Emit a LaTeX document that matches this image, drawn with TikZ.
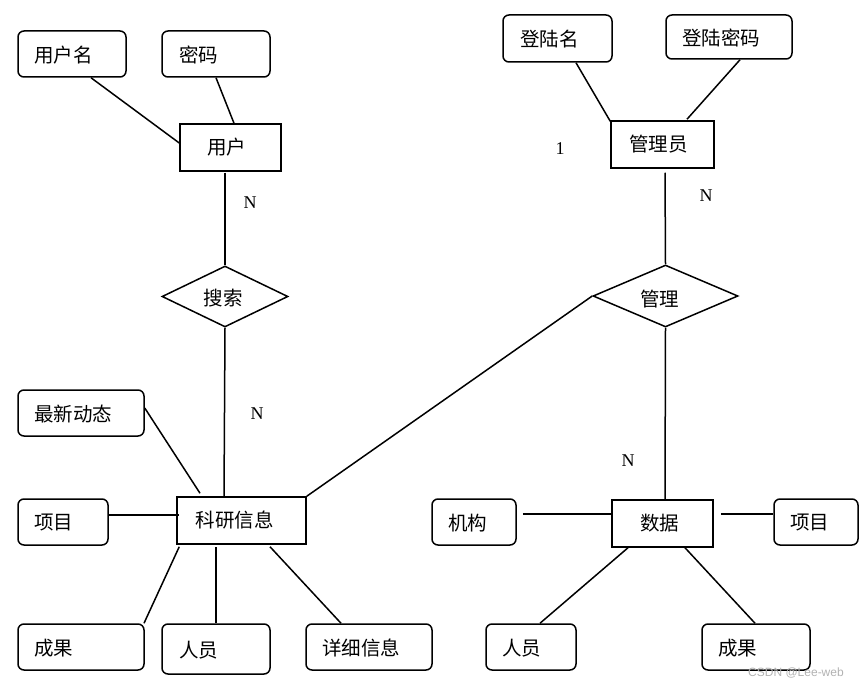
\documentclass[tikz,border=0pt]{standalone}
\usepackage{fontspec}
\setmainfont{Liberation Serif}
\newfontfamily\cjk{Noto Sans CJK SC}
\newfontfamily\wmfont{Liberation Sans}
\usetikzlibrary{shapes.geometric}
\begin{document}
\begin{tikzpicture}[x=1pt,y=-1pt,
  ln/.style={line width=1.5pt},
  attr/.style={draw,line width=1.5pt,rounded corners=6pt,inner sep=0pt},
  ent/.style={draw,line width=1.5pt,inner sep=0pt},
  rel/.style={draw,line width=1.5pt,diamond,inner sep=0pt},
  tx/.style={font=\cjk\fontsize{19.5}{21}\selectfont,inner sep=0pt},
  card/.style={font=\fontsize{18}{20}\selectfont,inner sep=0pt}]
\useasboundingbox (0,0) rectangle (859,687);
% attribute boxes
\node[attr,minimum width=108pt,minimum height=46pt] (un) at (72,54) {};
\node[attr,minimum width=108pt,minimum height=46pt] (mm) at (216,54) {};
\node[attr,minimum width=126pt,minimum height=46pt] (zx) at (81,413) {};
\node[attr,minimum width=90pt,minimum height=46pt] (xm1) at (63,522) {};
\node[attr,minimum width=126pt,minimum height=46pt] (cg1) at (81,647) {};
\node[attr,minimum width=108pt,minimum height=50pt] (ry1) at (216,649) {};
\node[attr,minimum width=126pt,minimum height=46pt] (xx) at (369,647) {};
\node[attr,minimum width=109pt,minimum height=47pt] (dlm) at (557.5,38.5) {};
\node[attr,minimum width=126pt,minimum height=44pt] (dlmm) at (729,37) {};
\node[attr,minimum width=84pt,minimum height=46pt] (jg) at (474,522) {};
\node[attr,minimum width=84pt,minimum height=46pt] (xm2) at (816,522) {};
\node[attr,minimum width=90pt,minimum height=46pt] (ry2) at (531,647) {};
\node[attr,minimum width=108pt,minimum height=46pt] (cg2) at (756,647) {};
% attribute texts
\node[tx,anchor=west] (tun) at ([xshift=17pt,yshift=-1pt]un.west) {用户名};
\node[tx,anchor=west] (tmm) at ([xshift=18pt,yshift=-1pt]mm.west) {密码};
\node[tx,anchor=west] (tzx) at ([xshift=17pt,yshift=-1pt]zx.west) {最新动态};
\node[tx,anchor=west] (txm1) at ([xshift=17pt,yshift=-1pt]xm1.west) {项目};
\node[tx,anchor=west] (tcg1) at ([xshift=17pt,yshift=-1pt]cg1.west) {成果};
\node[tx,anchor=west] (try1) at ([xshift=18pt,yshift=-1pt]ry1.west) {人员};
\node[tx,anchor=west] (txx) at ([xshift=17pt,yshift=-1pt]xx.west) {详细信息};
\node[tx,anchor=west] (tdlm) at ([xshift=18pt,yshift=-1pt]dlm.west) {登陆名};
\node[tx,anchor=west] (tdlmm) at ([xshift=17pt,yshift=-1pt]dlmm.west) {登陆密码};
\node[tx,anchor=west] (tjg) at ([xshift=17pt,yshift=-1pt]jg.west) {机构};
\node[tx,anchor=west] (txm2) at ([xshift=17pt,yshift=-1pt]xm2.west) {项目};
\node[tx,anchor=west] (try2) at ([xshift=17pt,yshift=-1pt]ry2.west) {人员};
\node[tx,anchor=west] (tcg2) at ([xshift=17pt,yshift=-1pt]cg2.west) {成果};
% entities
\node[ent,minimum width=101pt,minimum height=47pt] (user) at (230.5,147.5) {};
\node[tx] at ([xshift=-4pt]user.center) {用户};
\node[ent,minimum width=103pt,minimum height=47pt] (admin) at (662.5,144.5) {};
\node[tx] at ([xshift=-4pt]admin.center) {管理员};
\node[ent,minimum width=129pt,minimum height=47pt] (ky) at (241.5,520.5) {};
\node[tx] at ([xshift=-7pt]ky.center) {科研信息};
\node[ent,minimum width=101pt,minimum height=47pt] (sj) at (662.5,523.5) {};
\node[tx] at ([xshift=-3pt]sj.center) {数据};
% relationships
\node[rel,minimum width=126pt,minimum height=61pt] (ss) at (225,296.5) {};
\node[tx] at ([xshift=-2pt,yshift=-2pt]ss.center) {搜索};
\node[rel,minimum width=145pt,minimum height=62pt] (gl) at (665.5,296) {};
\node[tx] at ([xshift=-6pt,yshift=-3pt]gl.center) {管理};
% connectors
\draw[ln] ([xshift=19pt]un.south) -- ([yshift=4.5pt]user.west);
\draw[ln] (mm.south) -- ([xshift=3.5pt]user.north);
\draw[ln] ([xshift=-5.5pt,yshift=-1pt]user.south) -- (ss.north);
\draw[ln] (ss.south) -- ([xshift=-17.5pt]ky.north);
\draw[ln] ([yshift=5pt]zx.east) -- ([xshift=-41.5pt,yshift=3pt]ky.north);
\draw[ln] ([yshift=7pt]xm1.east) -- ([xshift=3pt,yshift=5.5pt]ky.west);
\draw[ln] ([xshift=63pt]cg1.north) -- ([xshift=3pt,yshift=-2pt]ky.south west);
\draw[ln] (ry1.north) -- ([xshift=-25.5pt,yshift=-2pt]ky.south);
\draw[ln] ([xshift=-28pt]xx.north) -- ([xshift=28.5pt,yshift=-2pt]ky.south);
\draw[ln] (ky.north east) -- (gl.west);
\draw[ln] ([xshift=18.5pt]dlm.south) -- ([yshift=-1pt]admin.north west);
\draw[ln] ([xshift=11pt]dlmm.south) -- ([xshift=24.5pt,yshift=1pt]admin.north);
\draw[ln] ([xshift=2.5pt,yshift=-4pt]admin.south) -- (gl.north);
\draw[ln] (gl.south) -- ([xshift=2.5pt]sj.north);
\draw[ln] ([xshift=6pt,yshift=8pt]jg.east) -- ([yshift=9.5pt]sj.west);
\draw[ln] ([xshift=7pt,yshift=9.5pt]sj.east) -- ([yshift=8pt]xm2.west);
\draw[ln] ([xshift=-34.5pt]sj.south) -- ([xshift=9pt]ry2.north);
\draw[ln] ([xshift=22.5pt]sj.south) -- ([xshift=-1pt]cg2.north);
% cardinalities
\node[card] (c1) at (250,203) {N};
\node[card] (c2) at (257,414) {N};
\node[card] (c3) at (560,149) {1};
\node[card] (c4) at (706,196) {N};
\node[card] (c5) at (628,461) {N};
% watermark
\node[font=\wmfont\fontsize{12}{13}\selectfont,text=black!30,inner sep=0pt] (wm) at (796,673) {CSDN @Lee-web};
\end{tikzpicture}
\end{document}
